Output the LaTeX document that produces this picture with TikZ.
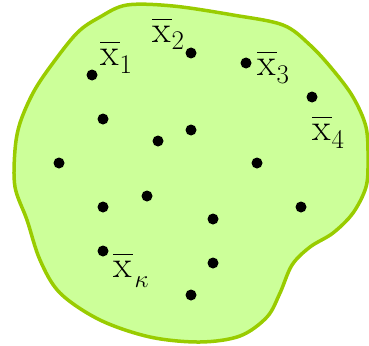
\documentclass[tikz,border=0pt]{standalone}
\usepackage{tikz}
\usetikzlibrary{positioning}
\definecolor{blobfill}{HTML}{CCFF99}
\definecolor{blobline}{HTML}{99CC00}
\newcommand{\xbar}{\leavevmode\rlap{\raisebox{22pt}{\rule{20pt}{1.4pt}}}x}
\newcommand{\xbarsub}[1]{\xbar\kern1pt\raisebox{-8pt}{\fontsize{27}{27}\selectfont #1}}
\begin{document}
\begin{tikzpicture}[x=1pt, y=-1pt,
                blob/.style={draw=blobline, fill=blobfill, line width=3.5pt},
                dot/.style={circle, fill=black, inner sep=0pt, minimum size=11pt},
                xlabel/.style={anchor=base west, inner sep=0pt, font=\fontsize{38}{38}\selectfont}
            ]
            \useasboundingbox (0,0) rectangle (369,345);

            % Gebiet
            \draw[blob] plot[smooth cycle, tension=0.55] coordinates {
                (127,5) (173,6) (233,15) (283,25) (310,45) (333,70) (353,97)
                (366,127) (368,160) (366,187) (353,213) (333,233) (310,247)
                (292,265) (280,293) (267,317) (240,336) (200,342) (150,337)
                (100,320) (60,293) (40,260) (27,220) (15,187) (15,150)
                (20,123) (33,93) (50,67) (77,33) (100,17)};

            % Punkte
            \foreach \p [count=\i] in {(92,75), (191,53), (246,63), (312,97), (103,119),
                (191,130), (158,141), (59,163), (257,163), (147,196), (103,207),
                (301,207), (213,219), (103,251), (213,263), (191,295)}
                \node[dot] (d\i) at \p {};

            % Beschriftungen
            \node[xlabel] (x1) at (100,65) {\xbarsub{1}};
            \node[xlabel] (x2) at (152,42) {\xbarsub{2}};
            \node[xlabel] (x3) at (257,75) {\xbarsub{3}};
            \node[xlabel] (x4) at (312,140) {\xbarsub{4}};
            \node[xlabel] (xk) at (113,277) {\xbar\kern3pt\raisebox{-10pt}{\fontsize{30}{30}\selectfont$\kappa$}};

        \end{tikzpicture}
\end{document}
